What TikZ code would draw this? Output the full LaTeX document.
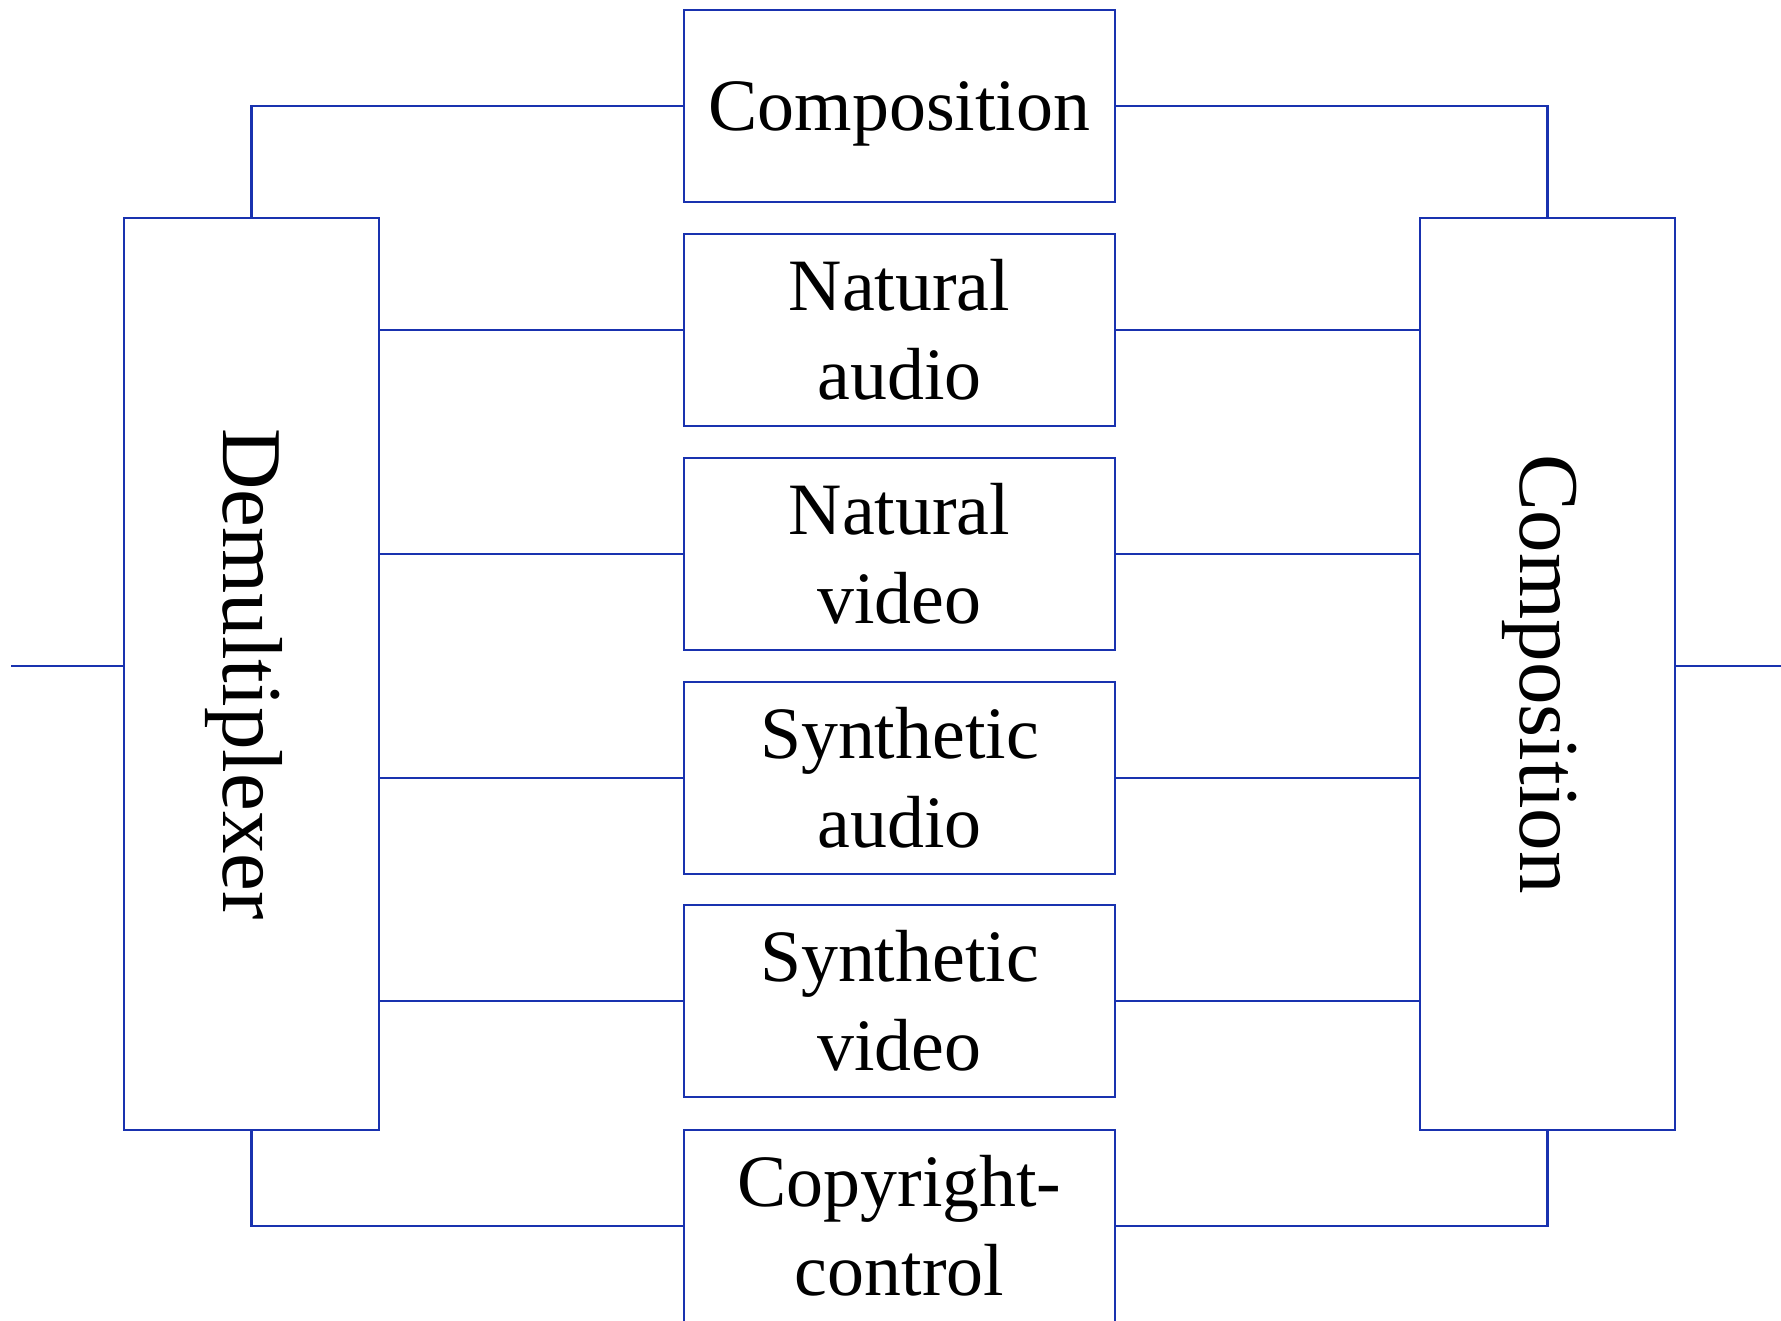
\documentclass[tikz,border=0pt]{standalone}
\usepackage{fontspec}
\setmainfont{Liberation Serif}
\usetikzlibrary{positioning}
\definecolor{wireblue}{RGB}{25,50,175}
\tikzset{
    every picture/.style = {
        line width = 0.6pt,
        x = 0.01cm,
        y = -0.01cm
    },
    unit/.style = {
        draw = wireblue,
        inner sep = 0pt,
        minimum width = 4.31cm,
        minimum height = 1.92cm,
        align = center,
        font = \fontsize{21}{25.3}\selectfont
    },
    tallunit/.style = {
        draw = wireblue,
        inner sep = 0pt,
        minimum width = 2.55cm,
        minimum height = 9.12cm
    },
    sidetext/.style = {
        rotate = -90,
        yshift = -0.08cm,
        font = \fontsize{24.2}{29}\selectfont
    },
    wire/.style = {draw = wireblue}
}

\begin{document}
\begin{tikzpicture}
    \useasboundingbox (0, 0) rectangle (1781, 1321);
    \node[tallunit] (demux) at (251.5, 674) {};
    \node[sidetext] (demuxlabel) at (demux.center) {Demultiplexer};
    \node[tallunit] (comp) at (1547.5, 674) {};
    \node[sidetext] (complabel) at (comp.center) {Composition};
    \node[unit, text depth = 0pt] (top) at (899.5, 106) {Composition};
    \node[unit] (natau) at (899.5, 330) {Natural\\audio};
    \node[unit] (natvid) at (899.5, 554) {Natural\\video};
    \node[unit] (synau) at (899.5, 778) {Synthetic\\audio};
    \node[unit] (synvid) at (899.5, 1001) {Synthetic\\video};
    \node[unit] (copyr) at (899.5, 1226) {Copyright-\\control};
    \coordinate (in) at (11, 666);
    \coordinate (out) at (1781, 666);
    \draw[wire] (in) -- (in -| demux.west);
    \draw[wire] (comp.east |- out) -- (out);
    \draw[wire] (top) -| (demux);
    \draw[wire] (top) -| (comp);
    \draw[wire] (copyr) -| (demux);
    \draw[wire] (copyr) -| (comp);
    \foreach \n in {natau, natvid, synau, synvid} {
        \draw[wire] (\n) -- (\n -| demux.east);
        \draw[wire] (\n) -- (\n -| comp.west);
    }
\end{tikzpicture}
\end{document}
